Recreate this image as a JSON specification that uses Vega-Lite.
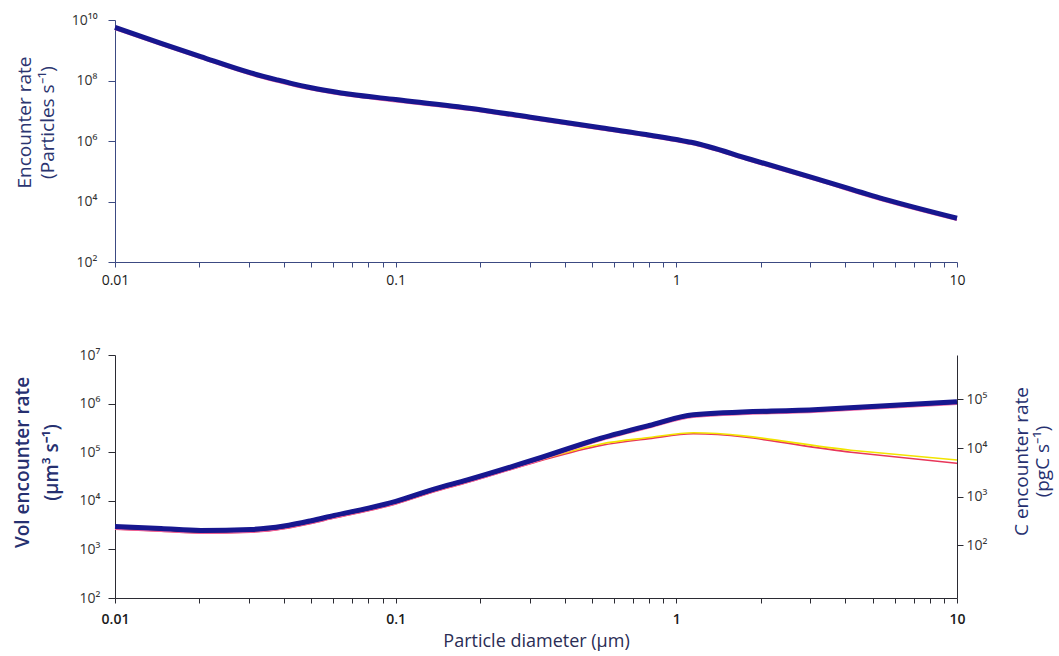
{
  "$schema": "https://vega.github.io/schema/vega-lite/v6.json",
  "background": "white",
  "padding": {"left": 13, "top": 13, "right": 2, "bottom": 2},
  "spacing": 61,
  "config": {
    "view": {"stroke": null},
    "axis": {
      "grid": false,
      "labelFont": "Open Sans",
      "titleFont": "Open Sans",
      "labelColor": "#1a1a1a",
      "titleColor": "#2b3570",
      "titleFontWeight": "normal",
      "labelFlush": false,
      "labelOverlap": false
    }
  },
  "datasets": {
    "rows": [
      {"panel": "top", "s": "blue", "d": 0.01, "v": 5750000000},
      {"panel": "top", "s": "blue", "d": 0.0146, "v": 1700000000},
      {"panel": "top", "s": "blue", "d": 0.0202, "v": 617000000},
      {"panel": "top", "s": "blue", "d": 0.0305, "v": 178000000},
      {"panel": "top", "s": "blue", "d": 0.0375, "v": 107000000},
      {"panel": "top", "s": "blue", "d": 0.046, "v": 67600000},
      {"panel": "top", "s": "blue", "d": 0.0527, "v": 52500000},
      {"panel": "top", "s": "blue", "d": 0.069, "v": 35100000},
      {"panel": "top", "s": "blue", "d": 0.1, "v": 23400000},
      {"panel": "top", "s": "blue", "d": 0.18, "v": 12300000},
      {"panel": "top", "s": "blue", "d": 0.311, "v": 5890000},
      {"panel": "top", "s": "blue", "d": 0.539, "v": 2750000},
      {"panel": "top", "s": "blue", "d": 1.0, "v": 1120000},
      {"panel": "top", "s": "blue", "d": 1.13, "v": 910000},
      {"panel": "top", "s": "blue", "d": 1.845, "v": 245000},
      {"panel": "top", "s": "blue", "d": 3.19, "v": 55000},
      {"panel": "top", "s": "blue", "d": 5.5, "v": 12000},
      {"panel": "top", "s": "blue", "d": 10, "v": 2800},
      {"panel": "top", "s": "pink", "d": 0.01, "v": 5000000000},
      {"panel": "top", "s": "pink", "d": 0.0146, "v": 1480000000},
      {"panel": "top", "s": "pink", "d": 0.0202, "v": 537000000},
      {"panel": "top", "s": "pink", "d": 0.0305, "v": 155000000},
      {"panel": "top", "s": "pink", "d": 0.0375, "v": 93000000},
      {"panel": "top", "s": "pink", "d": 0.046, "v": 58800000},
      {"panel": "top", "s": "pink", "d": 0.0527, "v": 45700000},
      {"panel": "top", "s": "pink", "d": 0.069, "v": 30500000},
      {"panel": "top", "s": "pink", "d": 0.1, "v": 20400000},
      {"panel": "top", "s": "pink", "d": 0.18, "v": 10700000},
      {"panel": "top", "s": "pink", "d": 0.311, "v": 5120000},
      {"panel": "top", "s": "pink", "d": 0.539, "v": 2390000},
      {"panel": "top", "s": "pink", "d": 1.0, "v": 974000},
      {"panel": "top", "s": "pink", "d": 1.13, "v": 790000},
      {"panel": "top", "s": "pink", "d": 1.845, "v": 213000},
      {"panel": "top", "s": "pink", "d": 3.19, "v": 48000},
      {"panel": "top", "s": "pink", "d": 5.5, "v": 10400},
      {"panel": "top", "s": "pink", "d": 10, "v": 2440},
      {"panel": "bottom", "s": "blue", "d": 0.01, "v": 2950},
      {"panel": "bottom", "s": "blue", "d": 0.0146, "v": 2690},
      {"panel": "bottom", "s": "blue", "d": 0.0202, "v": 2455},
      {"panel": "bottom", "s": "blue", "d": 0.0305, "v": 2570},
      {"panel": "bottom", "s": "blue", "d": 0.04, "v": 3020},
      {"panel": "bottom", "s": "blue", "d": 0.05, "v": 3890},
      {"panel": "bottom", "s": "blue", "d": 0.0604, "v": 5010},
      {"panel": "bottom", "s": "blue", "d": 0.08, "v": 7080},
      {"panel": "bottom", "s": "blue", "d": 0.1, "v": 9770},
      {"panel": "bottom", "s": "blue", "d": 0.137, "v": 17400},
      {"panel": "bottom", "s": "blue", "d": 0.18, "v": 26900},
      {"panel": "bottom", "s": "blue", "d": 0.313, "v": 70800},
      {"panel": "bottom", "s": "blue", "d": 0.539, "v": 195000},
      {"panel": "bottom", "s": "blue", "d": 0.8, "v": 355000},
      {"panel": "bottom", "s": "blue", "d": 1.15, "v": 589000},
      {"panel": "bottom", "s": "blue", "d": 3.2, "v": 759000},
      {"panel": "bottom", "s": "blue", "d": 10, "v": 1096000},
      {"panel": "bottom", "s": "pink", "d": 0.01, "v": 2660},
      {"panel": "bottom", "s": "pink", "d": 0.0146, "v": 2420},
      {"panel": "bottom", "s": "pink", "d": 0.0202, "v": 2210},
      {"panel": "bottom", "s": "pink", "d": 0.0305, "v": 2310},
      {"panel": "bottom", "s": "pink", "d": 0.04, "v": 2720},
      {"panel": "bottom", "s": "pink", "d": 0.05, "v": 3500},
      {"panel": "bottom", "s": "pink", "d": 0.0604, "v": 4510},
      {"panel": "bottom", "s": "pink", "d": 0.08, "v": 6370},
      {"panel": "bottom", "s": "pink", "d": 0.1, "v": 8790},
      {"panel": "bottom", "s": "pink", "d": 0.137, "v": 15700},
      {"panel": "bottom", "s": "pink", "d": 0.18, "v": 24200},
      {"panel": "bottom", "s": "pink", "d": 0.313, "v": 63700},
      {"panel": "bottom", "s": "pink", "d": 0.539, "v": 175500},
      {"panel": "bottom", "s": "pink", "d": 0.8, "v": 320000},
      {"panel": "bottom", "s": "pink", "d": 1.15, "v": 530000},
      {"panel": "bottom", "s": "pink", "d": 3.2, "v": 683000},
      {"panel": "bottom", "s": "pink", "d": 10, "v": 986000},
      {"panel": "bottom", "s": "black", "d": 0.01, "v": 2800},
      {"panel": "bottom", "s": "black", "d": 0.0146, "v": 2560},
      {"panel": "bottom", "s": "black", "d": 0.0202, "v": 2330},
      {"panel": "bottom", "s": "black", "d": 0.0305, "v": 2440},
      {"panel": "bottom", "s": "black", "d": 0.04, "v": 2870},
      {"panel": "bottom", "s": "black", "d": 0.05, "v": 3700},
      {"panel": "bottom", "s": "black", "d": 0.0604, "v": 4760},
      {"panel": "bottom", "s": "black", "d": 0.08, "v": 6730},
      {"panel": "bottom", "s": "black", "d": 0.1, "v": 9280},
      {"panel": "bottom", "s": "black", "d": 0.137, "v": 16500},
      {"panel": "bottom", "s": "black", "d": 0.18, "v": 25600},
      {"panel": "bottom", "s": "black", "d": 0.313, "v": 67300},
      {"panel": "bottom", "s": "black", "d": 0.539, "v": 185000},
      {"panel": "bottom", "s": "black", "d": 0.8, "v": 337000},
      {"panel": "bottom", "s": "black", "d": 1.15, "v": 560000},
      {"panel": "bottom", "s": "black", "d": 3.2, "v": 721000},
      {"panel": "bottom", "s": "black", "d": 10, "v": 1041000},
      {"panel": "bottom", "s": "yellow", "d": 0.01, "v": 2740},
      {"panel": "bottom", "s": "yellow", "d": 0.0146, "v": 2500},
      {"panel": "bottom", "s": "yellow", "d": 0.0202, "v": 2280},
      {"panel": "bottom", "s": "yellow", "d": 0.0305, "v": 2390},
      {"panel": "bottom", "s": "yellow", "d": 0.04, "v": 2810},
      {"panel": "bottom", "s": "yellow", "d": 0.05, "v": 3620},
      {"panel": "bottom", "s": "yellow", "d": 0.0604, "v": 4660},
      {"panel": "bottom", "s": "yellow", "d": 0.08, "v": 6580},
      {"panel": "bottom", "s": "yellow", "d": 0.1, "v": 9090},
      {"panel": "bottom", "s": "yellow", "d": 0.137, "v": 16200},
      {"panel": "bottom", "s": "yellow", "d": 0.18, "v": 25000},
      {"panel": "bottom", "s": "yellow", "d": 0.313, "v": 64600},
      {"panel": "bottom", "s": "yellow", "d": 0.539, "v": 148000},
      {"panel": "bottom", "s": "yellow", "d": 0.8, "v": 200000},
      {"panel": "bottom", "s": "yellow", "d": 1.15, "v": 251000},
      {"panel": "bottom", "s": "yellow", "d": 4.19, "v": 110000},
      {"panel": "bottom", "s": "yellow", "d": 10, "v": 69000},
      {"panel": "bottom", "s": "red", "d": 0.01, "v": 2600},
      {"panel": "bottom", "s": "red", "d": 0.0146, "v": 2370},
      {"panel": "bottom", "s": "red", "d": 0.0202, "v": 2160},
      {"panel": "bottom", "s": "red", "d": 0.0305, "v": 2260},
      {"panel": "bottom", "s": "red", "d": 0.04, "v": 2660},
      {"panel": "bottom", "s": "red", "d": 0.05, "v": 3420},
      {"panel": "bottom", "s": "red", "d": 0.0604, "v": 4410},
      {"panel": "bottom", "s": "red", "d": 0.08, "v": 6230},
      {"panel": "bottom", "s": "red", "d": 0.1, "v": 8600},
      {"panel": "bottom", "s": "red", "d": 0.137, "v": 15300},
      {"panel": "bottom", "s": "red", "d": 0.18, "v": 23700},
      {"panel": "bottom", "s": "red", "d": 0.313, "v": 61700},
      {"panel": "bottom", "s": "red", "d": 0.539, "v": 138000},
      {"panel": "bottom", "s": "red", "d": 0.8, "v": 190000},
      {"panel": "bottom", "s": "red", "d": 1.15, "v": 240000},
      {"panel": "bottom", "s": "red", "d": 4.19, "v": 100000},
      {"panel": "bottom", "s": "red", "d": 10, "v": 59000}
    ]
  },
  "vconcat": [
    {
      "width": 842,
      "height": 242,
      "data": {"name": "rows"},
      "transform": [{"filter": "datum.panel == 'top'"}],
      "encoding": {
        "x": {
          "field": "d", "type": "quantitative",
          "scale": {"type": "log", "domain": [0.01, 10], "nice": false},
          "axis": {
            "title": null,
            "values": [0.01,0.02,0.03,0.04,0.05,0.06,0.07,0.08,0.09,0.1,0.2,0.3,0.4,0.5,0.6,0.7,0.8,0.9,1,2,3,4,5,6,7,8,9,10],
            "labelExpr": "datum.value == 0.01 ? '0.01' : datum.value == 0.1 ? '0.1' : datum.value == 1 ? '1' : datum.value == 10 ? '10' : ''",
            "labelFontSize": 14,
            "labelPadding": 6,
            "domainColor": "#3c4a82",
            "tickColor": "#3c4a82",
            "tickSize": 5
          }
        },
        "y": {
          "field": "v", "type": "quantitative",
          "scale": {"type": "log", "domain": [100, 10000000000], "nice": false},
          "axis": {
            "title": ["Encounter rate", "(Particles s⁻¹)"],
            "titleFontSize": 19,
            "titleLineHeight": 23,
            "titlePadding": 14,
            "titleY": 102,
            "values": [100, 10000, 1000000, 100000000, 10000000000],
            "labelExpr": "'10' + ['⁰','¹','²','³','⁴','⁵','⁶','⁷','⁸','⁹','¹⁰'][round(log(datum.value)/LN10)]",
            "labelFontSize": 14,
            "labelPadding": 11,
            "labelColor": "#333",
            "domainColor": "#3c4a82",
            "tickColor": "#3c4a82",
            "tickSize": 7
          }
        }
      },
      "layer": [
        {
          "transform": [{"filter": "datum.s == 'pink'"}],
          "mark": {"type": "line", "color": "#f06aa8", "strokeWidth": 2, "interpolate": "monotone"}
        },
        {
          "transform": [{"filter": "datum.s == 'blue'"}],
          "mark": {"type": "line", "color": "#17178f", "strokeWidth": 5, "interpolate": "monotone"}
        }
      ]
    },
    {
      "width": 842,
      "height": 243,
      "data": {"name": "rows"},
      "transform": [{"filter": "datum.panel == 'bottom'"}],
      "resolve": {"scale": {"y": "independent"}},
      "layer": [
        {
          "layer": [
            {
              "transform": [{"filter": "datum.s == 'red'"}],
              "mark": {"type": "line", "color": "#e8365a", "strokeWidth": 1.6, "interpolate": "monotone"}
            },
            {
              "transform": [{"filter": "datum.s == 'yellow'"}],
              "mark": {"type": "line", "color": "#f2e400", "strokeWidth": 1.6, "interpolate": "monotone"}
            },
            {
              "transform": [{"filter": "datum.s == 'pink'"}],
              "mark": {"type": "line", "color": "#f06aa8", "strokeWidth": 2, "interpolate": "monotone"}
            },
            {
              "transform": [{"filter": "datum.s == 'black'"}],
              "mark": {"type": "line", "color": "#111111", "strokeWidth": 2, "interpolate": "monotone"}
            },
            {
              "transform": [{"filter": "datum.s == 'blue'"}],
              "mark": {"type": "line", "color": "#17178f", "strokeWidth": 5, "interpolate": "monotone"}
            }
          ],
          "encoding": {
            "x": {
              "field": "d", "type": "quantitative",
              "scale": {"type": "log", "domain": [0.01, 10], "nice": false},
              "axis": {
                "title": "Particle diameter (µm)",
                "titleFontSize": 18,
                "titleColor": "#2a2d55",
                "titlePadding": 6,
                "values": [0.01,0.02,0.03,0.04,0.05,0.06,0.07,0.08,0.09,0.1,0.2,0.3,0.4,0.5,0.6,0.7,0.8,0.9,1,2,3,4,5,6,7,8,9,10],
                "labelExpr": "datum.value == 0.01 ? '0.01' : datum.value == 0.1 ? '0.1' : datum.value == 1 ? '1' : datum.value == 10 ? '10' : ''",
                "labelFontSize": 14,
                "labelFontWeight": 600,
                "labelPadding": 9,
                "domainColor": "#2b2b33",
                "tickColor": "#2b2b33",
                "tickSize": 5
              }
            },
            "y": {
              "field": "v", "type": "quantitative",
              "scale": {"type": "log", "domain": [100, 10000000], "nice": false},
              "axis": {
                "title": ["Vol encounter rate", "(µm³ s⁻¹)"],
                "titleFontSize": 19,
                "titleLineHeight": 29,
                "titleFontWeight": 600,
                "titleColor": "#263070",
                "titlePadding": 18,
                "titleY": 107,
                "values": [100, 1000, 10000, 100000, 1000000, 10000000],
                "labelExpr": "'10' + ['⁰','¹','²','³','⁴','⁵','⁶','⁷','⁸','⁹','¹⁰'][round(log(datum.value)/LN10)]",
                "labelFontSize": 14,
                "labelPadding": 8,
                "labelColor": "#333",
                "domainColor": "#2b2b33",
                "tickColor": "#2b2b33",
                "tickSize": 7
              }
            }
          }
        },
        {
          "transform": [{"filter": "datum.s == 'blue'"}],
          "mark": {"type": "line", "opacity": 0, "clip": true},
          "encoding": {
            "x": {"field": "d", "type": "quantitative", "scale": {"type": "log", "domain": [0.01, 10], "nice": false}},
            "y": {
              "field": "v", "type": "quantitative",
              "scale": {"type": "log", "domain": [8.2, 820000], "nice": false},
              "axis": {
                "orient": "right",
                "title": ["C encounter rate", "(pgC s⁻¹)"],
                "titleAngle": 270,
                "titleFontSize": 19,
                "titleLineHeight": 21,
                "titleColor": "#263070",
                "titlePadding": 24,
                "titleY": 106,
                "values": [100, 1000, 10000, 100000],
                "labelExpr": "'10' + ['⁰','¹','²','³','⁴','⁵','⁶','⁷','⁸','⁹','¹⁰'][round(log(datum.value)/LN10)]",
                "labelFontSize": 14,
                "labelPadding": 3,
                "labelColor": "#333",
                "domainColor": "#2b2b33",
                "tickColor": "#2b2b33",
                "tickSize": 6
              }
            }
          }
        }
      ]
    }
  ]
}
